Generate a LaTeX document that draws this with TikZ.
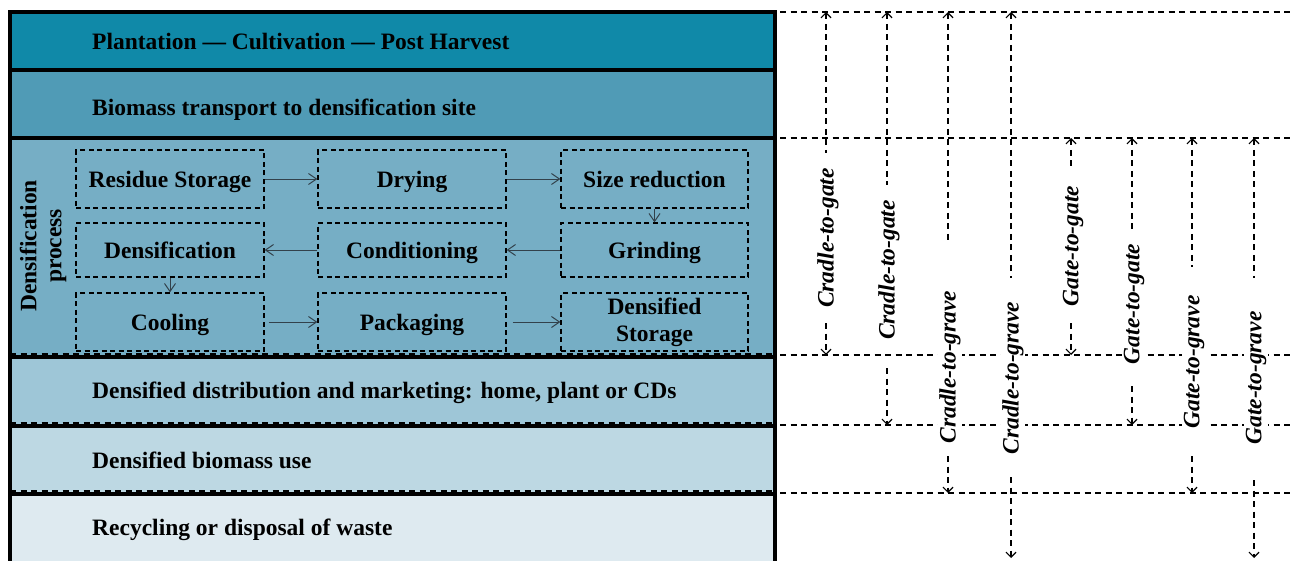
\documentclass[tikz,border=0pt]{standalone}
\usepackage{fontspec}
\setmainfont{Liberation Serif}
\usetikzlibrary{arrows.meta}
\definecolor{bandA}{RGB}{16,137,168}
\definecolor{bandB}{RGB}{80,155,182}
\definecolor{bandC}{RGB}{118,174,197}
\definecolor{bandD}{RGB}{158,198,215}
\definecolor{bandE}{RGB}{189,216,227}
\definecolor{bandF}{RGB}{222,234,240}
\definecolor{arrowgray}{RGB}{50,65,75}
\begin{document}
\begin{tikzpicture}[x=1pt,y=-1pt,
  bandline/.style={draw=black, line width=3.5pt},
  bandtext/.style={anchor=base west, inner sep=0pt, font=\fontsize{23.5}{28}\selectfont\bfseries},
  procbox/.style={draw=black, line width=1.3pt, dash pattern=on 5pt off 3.5pt,
    minimum width=188pt, inner sep=0pt, text height=17.5pt, text depth=0pt,
    font=\fontsize{23.5}{28}\selectfont\bfseries},
  procarrow/.style={draw=arrowgray, line width=1pt, -{Straight Barb[length=8pt,width=11pt]}},
  hline/.style={draw=black, line width=1.2pt, dash pattern=on 6pt off 4.5pt},
  dimline/.style={draw=black, line width=1.2pt, dash pattern=on 6pt off 4.5pt},
  uptip/.style={{Straight Barb[length=5pt,width=10pt]}-},
  downtip/.style={-{Straight Barb[length=5pt,width=10pt]}},
  dimlabel/.style={rotate=90, fill=white, inner sep=1.5pt,
    font=\fontsize{23.5}{28}\selectfont\bfseries\itshape}
]
\clip (0,0) rectangle (1293,560);
\fill[white] (0,0) rectangle (1293,560);

% bands
\fill[bandA] (10,12) rectangle (775,70);
\fill[bandB] (10,70) rectangle (775,138);
\fill[bandC] (10,138) rectangle (775,357);
\fill[bandD] (10,357) rectangle (775,426);
\fill[bandE] (10,426) rectangle (775,494);
\fill[bandF] (10,494) rectangle (775,570);

% dashed lines inside left column
\draw[hline] (10,354) -- (775,354);
\draw[hline] (10,423) -- (775,423);
\draw[hline] (10,491) -- (775,491);

% thick borders
\draw[bandline] (10,570) -- (10,12) -- (775,12) -- (775,570);
\draw[bandline] (10,70) -- (775,70);
\draw[bandline] (10,138) -- (775,138);
\draw[bandline] (10,357) -- (775,357);
\draw[bandline] (10,426) -- (775,426);
\draw[bandline] (10,494) -- (775,494);

% band texts
\node[bandtext] (b1) at (92,49) {Plantation — Cultivation — Post Harvest};
\node[bandtext] (b2) at (92,115) {Biomass transport to densification site};
\node[bandtext] (b4) at (92,398) {Densified distribution and marketing: home, plant or CDs};
\node[bandtext] (b5) at (92,468) {Densified biomass use};
\node[bandtext] (b6) at (92,535) {Recycling or disposal of waste};

\node[rotate=90, align=center, inner sep=0pt,
  font=\fontsize{23.5}{25}\selectfont\bfseries] (dp) at (43,246) {Densification\\process};

% process boxes
\node[procbox, minimum height=58pt] (res) at (170,179) {Residue Storage};
\node[procbox, minimum height=58pt] (dry) at (412,179) {Drying};
\node[procbox, minimum height=58pt, minimum width=187pt] (siz) at (654.5,179) {Size reduction};
\node[procbox, minimum height=54pt] (den) at (170,250) {Densification};
\node[procbox, minimum height=54pt] (con) at (412,250) {Conditioning};
\node[procbox, minimum height=54pt, minimum width=187pt] (gri) at (654.5,250) {Grinding};
\node[procbox, minimum height=58pt] (coo) at (170,322) {Cooling};
\node[procbox, minimum height=58pt] (pac) at (412,322) {Packaging};
\node[procbox, minimum height=58pt, minimum width=187pt, text height=, text depth=,
  align=center, font=\fontsize{23.5}{27}\selectfont\bfseries] (dst) at (654.5,322) {Densified\\Storage};

\draw[procarrow] (res.east) -- (dry.west);
\draw[procarrow] (dry.east) -- (siz.west);
\draw[procarrow] (siz.south) -- (gri.north);
\draw[procarrow] (gri.west) -- (con.east);
\draw[procarrow] (con.west) -- (den.east);
\draw[procarrow] (den.south) -- (coo.north);
\draw[procarrow, shorten <=4pt] (coo.east) -- (pac.west);
\draw[procarrow, shorten <=6pt] (pac.east) -- (dst.west);

% right side horizontal dashed lines
\draw[hline] (780,12) -- (1293,12);
\draw[hline] (780,138) -- (1293,138);
\draw[hline] (780,355) -- (1293,355);
\draw[hline] (780,425) -- (1293,425);
\draw[hline] (780,493) -- (1293,493);

% dimension arrows: coordinates
\coordinate (t1) at (826,12);   \coordinate (u1) at (826,153); \coordinate (v1) at (826,323); \coordinate (e1) at (826,355);
\coordinate (t2) at (887,12);   \coordinate (u2) at (887,185); \coordinate (v2) at (887,368); \coordinate (e2) at (887,425);
\coordinate (t3) at (948,12);   \coordinate (u3) at (948,240); \coordinate (v3) at (948,456); \coordinate (e3) at (948,493);
\coordinate (t4) at (1011,12);  \coordinate (u4) at (1011,278); \coordinate (v4) at (1011,477); \coordinate (e4) at (1011,558);
\coordinate (t5) at (1071,138); \coordinate (u5) at (1071,170); \coordinate (v5) at (1071,323); \coordinate (e5) at (1071,355);
\coordinate (t6) at (1132,138); \coordinate (u6) at (1132,232); \coordinate (v6) at (1132,386); \coordinate (e6) at (1132,425);
\coordinate (t7) at (1192,138); \coordinate (u7) at (1192,267); \coordinate (v7) at (1192,456); \coordinate (e7) at (1192,493);
\coordinate (t8) at (1254,138); \coordinate (u8) at (1254,278); \coordinate (v8) at (1254,480); \coordinate (e8) at (1254,558);

\foreach \i in {1,...,8} {
  \draw[dimline, uptip] (t\i) -- (u\i);
  \draw[dimline, downtip] (v\i) -- (e\i);
}

\node[dimlabel] (l1) at (828,238) {Cradle-to-gate};
\node[dimlabel] (l2) at (889,270) {Cradle-to-gate};
\node[dimlabel] (l3) at (950,367) {Cradle-to-grave};
\node[dimlabel] (l4) at (1013,378) {Cradle-to-grave};
\node[dimlabel] (l5) at (1073,246) {Gate-to-gate};
\node[dimlabel] (l6) at (1134,304) {Gate-to-gate};
\node[dimlabel] (l7) at (1194,362) {Gate-to-grave};
\node[dimlabel] (l8) at (1256,378) {Gate-to-grave};
\end{tikzpicture}
\end{document}
